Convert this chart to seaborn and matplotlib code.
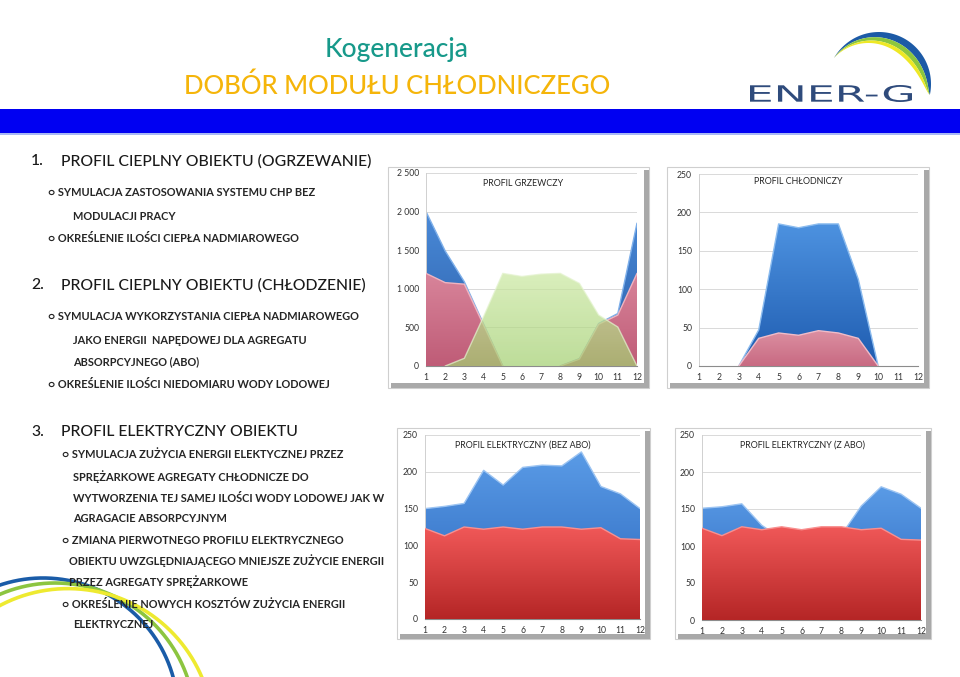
import numpy as np
import matplotlib
matplotlib.use("Agg")
import matplotlib.pyplot as plt
import seaborn as sns
from matplotlib.patches import Rectangle, Polygon, PathPatch
from matplotlib.textpath import TextPath
from matplotlib.font_manager import FontProperties
from matplotlib.transforms import Affine2D
from matplotlib.colors import LinearSegmentedColormap

W, H = 960, 677

months = list(range(1, 13))

# PROFIL GRZEWCZY
heat_demand = [2000, 1490, 1090, 545, 0, 0, 0, 0, 95, 550, 680, 1850]
heat_chp = [1200, 1080, 1060, 530, 0, 0, 0, 0, 90, 540, 660, 1200]
heat_surplus = [0, 0, 100, 640, 1200, 1160, 1190, 1200, 1070, 660, 505, 0]

# PROFIL CHŁODNICZY
cool_demand = [0, 0, 0, 47, 185, 180, 185, 185, 113, 0, 0, 0]
cool_abo = [0, 0, 0, 36, 43, 40, 46, 43, 36, 0, 0, 0]

# PROFIL ELEKTRYCZNY (BEZ ABO)
elec_total = [150, 153, 157, 202, 182, 206, 209, 208, 227, 180, 170, 150]
elec_base = [123, 113, 125, 122, 125, 122, 125, 125, 122, 124, 109, 108]

# PROFIL ELEKTRYCZNY (Z ABO)
elec_total_abo = [151, 153, 157, 128, 110, 110, 112, 115, 154, 180, 170, 151]
elec_base_abo = [124, 114, 126, 122, 126, 122, 126, 126, 122, 124, 109, 108]

headings = [
    ("1.", "PROFIL CIEPLNY OBIEKTU (OGRZEWANIE)"),
    ("2.", "PROFIL CIEPLNY OBIEKTU (CHŁODZENIE)"),
    ("3.", "PROFIL ELEKTRYCZNY OBIEKTU"),
]
heading_y = [161, 285, 432]

bullets = [
    (48, 193, "○ SYMULACJA ZASTOSOWANIA SYSTEMU CHP BEZ"),
    (73, 216, "MODULACJI PRACY"),
    (48, 238, "○ OKREŚLENIE ILOŚCI CIEPŁA NADMIAROWEGO"),
    (48, 317, "○ SYMULACJA WYKORZYSTANIA CIEPŁA NADMIAROWEGO"),
    (73, 340, "JAKO ENERGII  NAPĘDOWEJ DLA AGREGATU"),
    (73, 362, "ABSORPCYJNEGO (ABO)"),
    (48, 384, "○ OKREŚLENIE ILOŚCI NIEDOMIARU WODY LODOWEJ"),
    (62, 455, "○ SYMULACJA ZUŻYCIA ENERGII ELEKTYCZNEJ PRZEZ"),
    (73, 477, "SPRĘŻARKOWE AGREGATY CHŁODNICZE DO"),
    (73, 498, "WYTWORZENIA TEJ SAMEJ ILOŚCI WODY LODOWEJ JAK W"),
    (73, 519, "AGRAGACIE ABSORPCYJNYM"),
    (62, 540, "○ ZMIANA PIERWOTNEGO PROFILU ELEKTRYCZNEGO"),
    (69, 561, "OBIEKTU UWZGLĘDNIAJĄCEGO MNIEJSZE ZUŻYCIE ENERGII"),
    (69, 582, "PRZEZ AGREGATY SPRĘŻARKOWE"),
    (62, 604, "○ OKREŚLENIE NOWYCH KOSZTÓW ZUŻYCIA ENERGII"),
    (73, 625, "ELEKTRYCZNEJ"),
]

sns.set_theme(style="white")
plt.rcParams['font.family'] = ['Lato', 'DejaVu Sans']

fig = plt.figure(figsize=(9.6, 6.77), dpi=100)
bg = fig.add_axes([0, 0, 1, 1], zorder=0)
bg.set_xlim(0, W)
bg.set_ylim(H, 0)
bg.axis('off')


def px_axes(x0, x1, y0, y1):
    ax = fig.add_axes([x0 / W, 1 - y1 / H, (x1 - x0) / W, (y1 - y0) / H], zorder=2)
    ax.patch.set_visible(False)
    return ax


def frame(x0, x1, y0, y1):
    bg.add_patch(Rectangle((x0, y0), x1 - x0, y1 - y0, fc='white', ec='#cfcfcf', lw=0.8))
    bg.add_patch(Rectangle((x1 - 5, y0 + 3), 5, y1 - y0 - 3, fc='#a9a9a9', ec='none'))
    bg.add_patch(Rectangle((x0 + 3, y1 - 5), x1 - x0 - 3, 5, fc='#a9a9a9', ec='none'))


def area(ax, y, top, bottom, edge, alpha=1.0, z=2):
    poly = ax.fill_between(months, 0, y, facecolor='none', edgecolor='none', zorder=z)
    cmap = LinearSegmentedColormap.from_list('grad', [bottom, top])
    im = ax.imshow(np.linspace(0, 1, 64).reshape(-1, 1), cmap=cmap, origin='lower',
                   extent=(1, 12, 0, max(y)), aspect='auto', alpha=alpha, zorder=z,
                   interpolation='bilinear')
    im.set_clip_path(poly.get_paths()[0], ax.transData)
    # top edge only where the area is not lying on the axis
    run = []
    for i in range(len(y) - 1):
        if y[i] > 0 or y[i + 1] > 0:
            run = run + [i] if run and run[-1] == i else run + [i]
            run.append(i + 1)
        elif run:
            idx = sorted(set(run))
            sns.lineplot(x=[months[k] for k in idx], y=[y[k] for k in idx], ax=ax,
                         color=edge, lw=1, zorder=z + 0.1, alpha=alpha)
            run = []
    if run:
        idx = sorted(set(run))
        sns.lineplot(x=[months[k] for k in idx], y=[y[k] for k in idx], ax=ax,
                     color=edge, lw=1, zorder=z + 0.1, alpha=alpha)


def style(ax, ymax, step):
    ax.set_xlim(1, 12)
    ax.set_ylim(0, ymax)
    ticks = list(range(0, ymax + 1, step))
    ax.set_xticks(months)
    ax.set_xticklabels([str(m) for m in months])
    ax.set_yticks(ticks)
    ax.set_yticklabels([f"{t:,}".replace(",", " ") for t in ticks])
    ax.grid(True, axis='y', color='#d9d9d9', lw=0.7)
    ax.set_axisbelow(True)
    for s in ['top', 'right']:
        ax.spines[s].set_visible(False)
    ax.spines['left'].set_color('#d0d0d0')
    ax.spines['left'].set_linewidth(0.7)
    ax.spines['bottom'].set_color('#8c8c8c')
    ax.spines['bottom'].set_linewidth(0.8)
    ax.tick_params(axis='y', labelsize=6.2, labelcolor='#333333', length=0, pad=5)
    ax.tick_params(axis='x', labelsize=6.2, labelcolor='#333333', length=2,
                   color='#8c8c8c', direction='out', pad=3)
    ax.set_xlabel('')
    ax.set_ylabel('')


# header
bg.text(397, 50, "Kogeneracja", color='#17998a', fontsize=19, fontweight='medium',
        ha='center', va='center')
bg.text(397, 86, "DOBÓR MODUŁU CHŁODNICZEGO", color='#f5b50a', fontsize=18.5,
        fontweight='medium', ha='center', va='center')
bg.add_patch(Rectangle((0, 109), W, 24, fc='#0000f2', ec='none'))
bg.add_patch(Rectangle((0, 133), W, 2, fc='#a8b8f5', ec='none'))

# logo
tp = TextPath((0, 0), "ENER-G", size=10, prop=FontProperties(family='DejaVu Sans'))
bb = tp.get_extents()
tr = Affine2D().translate(-bb.x0, -bb.y0).scale(162 / bb.width, -17 / bb.height).translate(750, 102)
bg.add_patch(PathPatch(tr.transform_path(tp), fc='#2f4b7c', ec='none'))

t = np.radians(np.linspace(-12, 150, 200))
u = (t - t[0]) / (t[-1] - t[0])
taper = np.sin(np.pi * u ** 0.7)
inner = np.full_like(t, 52.0)
for w, c in zip([7, 5, 4], ['#1c5aa6', '#8cc63e', '#eee825']):
    outer = inner
    inner = outer - w * taper
    xs = np.concatenate([879 + outer * np.cos(t), (879 + inner * np.cos(t))[::-1]])
    ys = np.concatenate([84 - outer * np.sin(t), (84 - inner * np.sin(t))[::-1]])
    bg.add_patch(Polygon(np.column_stack([xs, ys]), fc=c, ec='none'))

# decorative arcs bottom-left
a = np.radians(np.linspace(5, 120, 200))
for cx, cy, r, c in [(43, 713, 135, '#1a5ca8'), (55, 723, 140, '#8cc540'),
                     (68, 734, 145.4, '#eeea30')]:
    bg.plot(cx + r * np.cos(a), cy - r * np.sin(a), color=c, lw=2.6, solid_capstyle='butt')

# left text
for (num, txt), y in zip(headings, heading_y):
    bg.text(31, y, num, fontsize=11.3, fontweight='medium', color='#1a1a1a',
            ha='left', va='center')
    bg.text(61, y, txt, fontsize=11.3, fontweight='medium', color='#1a1a1a',
            ha='left', va='center')
for x, y, txt in bullets:
    bg.text(x, y, txt, fontsize=7.9, fontweight='bold', color='#262626',
            ha='left', va='center')

# chart frames and titles
frame(388, 649, 167, 388)
frame(667, 929, 167, 388)
frame(397, 650, 428, 639)
frame(675, 931, 428, 639)
title_kw = dict(fontsize=6.4, color='#262626', ha='center', va='center')
bg.text(523, 183, "PROFIL GRZEWCZY", **title_kw)
bg.text(798, 182, "PROFIL CHŁODNICZY", **title_kw)
bg.text(523, 445, "PROFIL ELEKTRYCZNY (BEZ ABO)", **title_kw)
bg.text(802, 445, "PROFIL ELEKTRYCZNY (Z ABO)", **title_kw)

# chart 1
ax1 = px_axes(426, 637, 173, 366)
area(ax1, heat_demand, '#4a8ad8', '#2a5ea8', '#7fb0ea')
area(ax1, heat_chp, '#d8849a', '#bf5c77', '#efb4c0', z=3)
area(ax1, heat_surplus, '#cbe8a2', '#a4d072', '#e4f3cf', alpha=0.72, z=4)
style(ax1, 2500, 500)

# chart 2
ax2 = px_axes(699, 918, 174, 366)
area(ax2, cool_demand, '#4d92e0', '#1f5cb0', '#8cbcef')
area(ax2, cool_abo, '#dc90a2', '#c86a82', '#f0bcc8', z=3)
style(ax2, 250, 50)

# chart 3
ax3 = px_axes(425, 640, 435, 619)
area(ax3, elec_total, '#5a9be6', '#2a66bd', '#9cc4f2')
area(ax3, elec_base, '#f05858', '#b52626', '#f89090', z=3)
style(ax3, 250, 50)

# chart 4
ax4 = px_axes(702, 921, 435, 620)
area(ax4, elec_total_abo, '#5a9be6', '#2a66bd', '#9cc4f2')
area(ax4, elec_base_abo, '#f05858', '#b52626', '#f89090', z=3)
style(ax4, 250, 50)

fig.savefig("out.png", dpi=100)
